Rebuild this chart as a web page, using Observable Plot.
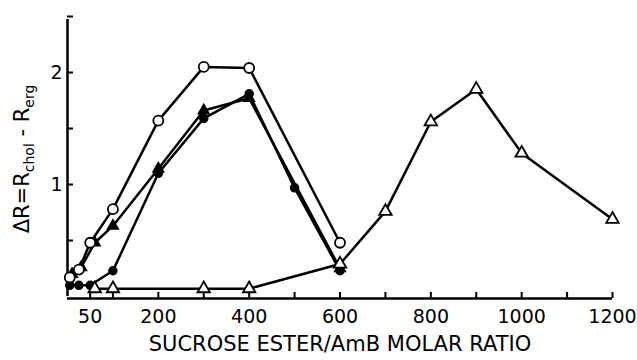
<!DOCTYPE html>
<html>
<head>
<meta charset="utf-8">
<script src="https://cdn.jsdelivr.net/npm/d3@7"></script>
<script src="https://cdn.jsdelivr.net/npm/@observablehq/plot@0.6"></script>
<style>
  html, body { margin: 0; padding: 0; background: #fff; }
  #chart svg { display: block; }
</style>
</head>
<body>
<div id="chart"></div>
<script>
// ---- data ----
const xOpenCircle = [5, 25, 50, 100, 200, 300, 400, 600];
const yOpenCircle = [0.17, 0.24, 0.48, 0.78, 1.57, 2.05, 2.04, 0.48];

const xFilledCircle = [5, 25, 50, 100, 200, 300, 400, 500, 600];
const yFilledCircle = [0.10, 0.10, 0.10, 0.23, 1.10, 1.59, 1.81, 0.97, 0.23];

const xFilledTriangle = [10, 30, 60, 100, 200, 300, 400, 600];
const yFilledTriangle = [0.20, 0.26, 0.48, 0.63, 1.14, 1.66, 1.77, 0.25];

const xOpenTriangle = [60, 100, 300, 400, 600, 700, 800, 900, 1000, 1200];
const yOpenTriangle = [0.07, 0.07, 0.07, 0.07, 0.29, 0.76, 1.56, 1.85, 1.28, 0.69];

const xTickValues = [50, 100, 200, 300, 400, 500, 600, 700, 800, 900, 1000, 1100, 1200];
const xTickLabels = [50, 200, 400, 600, 800, 1000, 1200];
const yTickValues = [0.5, 1, 1.5, 2, 2.5];
const yTickLabels = [1, 2];
const xTitle = "SUCROSE ESTER/AmB MOLAR RATIO";

const toRows = (xs, ys) => xs.map((x, i) => ({x, y: ys[i]}));
const openCircle = toRows(xOpenCircle, yOpenCircle);
const filledCircle = toRows(xFilledCircle, yFilledCircle);
const filledTriangle = toRows(xFilledTriangle, yFilledTriangle);
const openTriangle = toRows(xOpenTriangle, yOpenTriangle);

const W = 637, H = 360;
const mL = 67, mR = 25, mT = 16, mB = 64;
const plotW = W - mL - mR, plotH = H - mT - mB;
const font = "DejaVu Sans, sans-serif";
const lineOpts = {x: "x", y: "y", stroke: "black", strokeWidth: 2.5, strokeLinejoin: "round"};

const chart = Plot.plot({
  width: W,
  height: H,
  marginLeft: mL,
  marginRight: mR,
  marginTop: mT,
  marginBottom: mB,
  style: {fontFamily: font, background: "white", color: "black"},
  x: {domain: [0, 1200], axis: null},
  y: {domain: [0, 2.5], axis: null},
  marks: [
    // axis lines
    Plot.ruleY([0], {stroke: "black", strokeWidth: 2.5, dy: 2, x1: 0, x2: 1200}),
    Plot.ruleX([0], {stroke: "black", strokeWidth: 2.5, y1: 0, y2: 2.5, insetBottom: -3}),
    // inward ticks
    Plot.tickX(xTickValues, {x: d => d, stroke: "black", strokeWidth: 2, insetTop: plotH - 6, dy: 2}),
    Plot.tickY(yTickValues, {y: d => d, stroke: "black", strokeWidth: 2, insetRight: plotW - 6}),
    // tick labels
    Plot.axisX({ticks: xTickLabels, tickSize: 0, tickPadding: 13, fontSize: 19, tickFormat: d => String(d), label: null}),
    Plot.axisY({ticks: yTickLabels, tickSize: 0, tickPadding: 5, fontSize: 19, tickFormat: d => String(d), label: null}),
    // title
    Plot.text([xTitle], {text: d => d, frameAnchor: "bottom", dy: 54, fontSize: 21, fill: "black"}),
    // lines
    Plot.line(openCircle, lineOpts),
    Plot.line(filledCircle, lineOpts),
    Plot.line(filledTriangle, lineOpts),
    Plot.line(openTriangle, lineOpts),
    // markers
    Plot.dot(filledCircle, {x: "x", y: "y", r: 4, fill: "black", stroke: "black"}),
    Plot.dot(filledTriangle, {x: "x", y: "y", r: 4, symbol: "triangle", fill: "black", stroke: "black"}),
    Plot.dot(openTriangle, {x: "x", y: "y", r: 4.6, symbol: "triangle", fill: "white", stroke: "black", strokeWidth: 1.8}),
    Plot.dot(openCircle, {x: "x", y: "y", r: 5, fill: "white", stroke: "black", strokeWidth: 1.8})
  ]
});

document.getElementById("chart").appendChild(chart);

// y-axis title with subscripts
const svg = d3.select(chart);
const yt = svg.append("text")
  .attr("transform", `translate(29, ${159}) rotate(-90)`)
  .attr("text-anchor", "middle")
  .attr("font-family", font)
  .attr("font-size", 21)
  .attr("fill", "black");
yt.append("tspan").text("ΔR=R");
yt.append("tspan").attr("font-size", 14).attr("dy", 5).text("chol");
yt.append("tspan").attr("dy", -5).text(" - R");
yt.append("tspan").attr("font-size", 14).attr("dy", 5).text("erg");
</script>
</body>
</html>
